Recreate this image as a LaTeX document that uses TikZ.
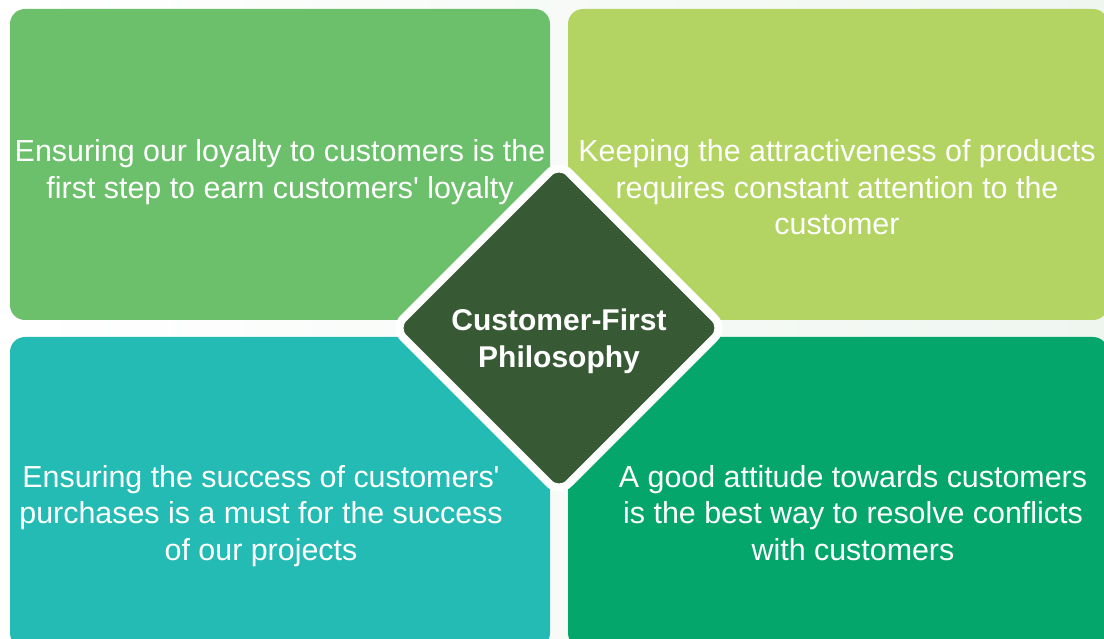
\documentclass[tikz,border=0pt]{standalone}
\usepackage{fontspec}
\setmainfont{Liberation Sans}
\usetikzlibrary{shapes.geometric,positioning}

\definecolor{pagetint}{HTML}{EFF6F0}
\definecolor{leafgreen}{HTML}{6CC06B}
\definecolor{limegreen}{HTML}{B3D462}
\definecolor{tealgreen}{HTML}{23BBB4}
\definecolor{jadegreen}{HTML}{04A66C}
\definecolor{forestgreen}{HTML}{375A34}

\begin{document}
\begin{tikzpicture}[x=1pt, y=-1pt]
    \tikzset{
        tile/.style={rectangle, rounded corners=15pt, minimum width=540pt, minimum height=311pt, inner sep=0pt},
        tiletext/.style={anchor=north, inner sep=0pt, align=center, text=white, font=\fontsize{30.4}{36.6}\selectfont},
        hub/.style={diamond, aspect=1, minimum size=334pt, inner sep=0pt, rounded corners=14pt, draw=white, line width=8pt, fill=forestgreen},
        hubtext/.style={inner sep=0pt, align=center, text=white, font=\fontsize{30}{37}\selectfont\bfseries}
    }
    \useasboundingbox (0,0) rectangle (1104,639);
    \shade[left color=white, right color=pagetint] (0,0) rectangle (1104,639);

    % top row
    \node[tile, fill=leafgreen] (tl) at (280,164.5) {};
    \node[tile, fill=limegreen] (tr) at (838,164.5) {};
    \node[tiletext] (tltext) at (280,139.5) {Ensuring our loyalty to customers is the\\first step to earn customers\textquotesingle{} loyalty};
    \node[tiletext] (trtext) at (837,139.5) {Keeping the attractiveness of products\\requires constant attention to the\\customer};

    % bottom row
    \node[tile, fill=tealgreen] (bl) at (280,492.5) {};
    \node[tile, fill=jadegreen] (br) at (838,492.5) {};
    \node[tiletext] (bltext) at (261,465) {Ensuring the success of customers\textquotesingle\\purchases is a must for the success\\of our projects};
    \node[tiletext] (brtext) at (853,465) {A good attitude towards customers\\is the best way to resolve conflicts\\with customers};

    % centre
    \node[hub] (core) at (559,328) {};
    \node[hubtext] (coretext) at (559,341) {Customer-First\\Philosophy};
\end{tikzpicture}
\end{document}
